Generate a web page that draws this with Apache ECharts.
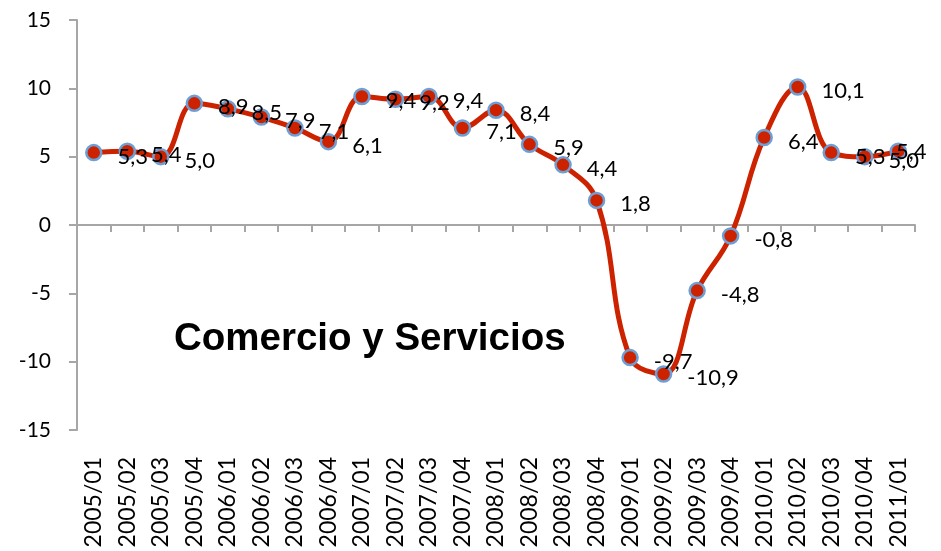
<!DOCTYPE html>
<html>
<head>
<meta charset="utf-8">
<script src="https://cdn.jsdelivr.net/npm/echarts@6/dist/echarts.min.js"></script>
<style>
  html, body { margin: 0; padding: 0; background: #fff; }
  #chart { width: 941px; height: 551px; }
</style>
</head>
<body>
<div id="chart"></div>
<script>
const categories = [
  '2005/01', '2005/02', '2005/03', '2005/04',
  '2006/01', '2006/02', '2006/03', '2006/04',
  '2007/01', '2007/02', '2007/03', '2007/04',
  '2008/01', '2008/02', '2008/03', '2008/04',
  '2009/01', '2009/02', '2009/03', '2009/04',
  '2010/01', '2010/02', '2010/03', '2010/04',
  '2011/01'
]
const values = [
  5.3, 5.4, 5.0, 8.9,
  8.5, 7.9, 7.1, 6.1,
  9.4, 9.2, 9.4, 7.1,
  8.4, 5.9, 4.4, 1.8,
  -9.7, -10.9, -4.8, -0.8,
  6.4, 10.1, 5.3, 5.0,
  5.4
]
const yTicks = [-15, -10, -5, 0, 5, 10, 15]

const axisGray = '#a6a6a6'
const textFont = 'Lato'

// last label is pulled back so it stays inside the canvas
const seriesData = values.map((v, i) => i === values.length - 1
  ? { value: v, label: { offset: [-26, 1] } }
  : v)

const chart = echarts.init(document.getElementById('chart'))

chart.setOption({
  animation: false,
  title: {
    text: 'Comercio y Servicios',
    left: 169,
    top: 315,
    textStyle: {
      fontFamily: 'Liberation Sans',
      fontWeight: 'bold',
      fontSize: 38.5,
      color: '#000'
    }
  },
  grid: {
    left: 77,
    right: 26,
    top: 20,
    bottom: 121
  },
  xAxis: [
    {
      // bottom axis: labels only
      type: 'category',
      data: categories,
      position: 'bottom',
      axisLine: { show: false, onZero: false },
      axisTick: { show: false },
      axisLabel: {
        interval: 0,
        rotate: 90,
        margin: 27,
        fontFamily: textFont,
        fontSize: 23,
        color: '#000'
      }
    },
    {
      // zero line with ticks
      type: 'category',
      data: categories,
      position: 'top',
      axisLine: { show: true, onZero: true, lineStyle: { color: axisGray, width: 2 } },
      axisTick: { show: true, inside: true, interval: 0, length: 7, lineStyle: { color: axisGray, width: 2 } },
      axisLabel: { show: false }
    }
  ],
  yAxis: {
    type: 'value',
    min: yTicks[0],
    max: yTicks[yTicks.length - 1],
    interval: 5,
    axisLine: { show: true, lineStyle: { color: axisGray, width: 2 } },
    axisTick: { show: true, length: 8, lineStyle: { color: axisGray, width: 2 } },
    splitLine: { show: false },
    axisLabel: {
      margin: 26,
      fontFamily: textFont,
      fontSize: 21,
      color: '#000'
    }
  },
  series: [
    {
      type: 'line',
      data: seriesData,
      smooth: 0.4,
      symbol: 'circle',
      symbolSize: 15,
      lineStyle: { color: '#cc2200', width: 5 },
      itemStyle: { color: '#cc2200', borderColor: '#6e9fd4', borderWidth: 2.5 },
      label: {
        show: true,
        position: 'right',
        distance: 15,
        offset: [0, 4],
        fontFamily: textFont,
        fontSize: 22,
        color: '#000',
        formatter: p => p.value.toFixed(1).replace('.', ',')
      },
      z: 3
    }
  ]
})
</script>
</body>
</html>
